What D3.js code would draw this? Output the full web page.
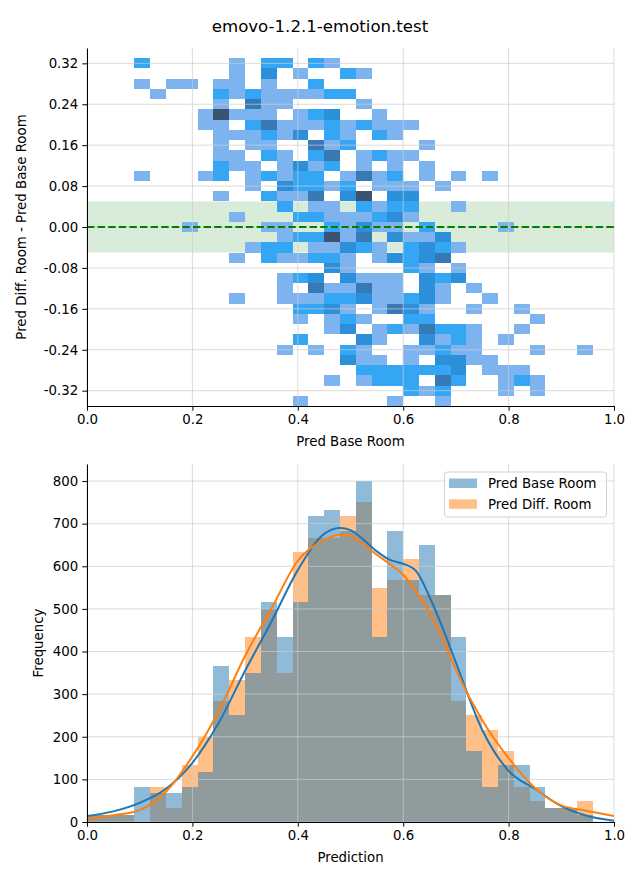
<!DOCTYPE html>
<html><head><meta charset="utf-8">
<script src="https://cdn.jsdelivr.net/npm/d3@7"></script>
<style>body{margin:0;background:#fff}svg{display:block;font-family:"DejaVu Sans",sans-serif}</style>
</head><body><svg id="c" width="640" height="880"></svg>
<script>
// ---------------- DATA ----------------
const chartTitle = "emovo-1.2.1-emotion.test";

// Top: 2D histogram (Pred Base Room vs difference)
const heatColEdges = d3.range(30).map(i => +(0.09 + 0.03 * i).toFixed(2));   // 0.09 .. 0.96
const heatRowCenters = d3.range(34).map(j => +(0.32 - 0.02 * j).toFixed(2)); // 0.32 .. -0.34
const heatRowHalf = 0.01;
const heatCounts = [
  "2000001022021",
  "000000103010021",
  "101101101002",
  "01000212111122",
  "000001041100001",
  "0000151110123001",
  "000011024111212111",
  "00000111213021021",
  "0000010110041200001",
  "000001102102401211",
  "0000021101312010101",
  "10001201212201412010101",
  "00000001032212011101",
  "000001002114035033",
  "000000000201102122001",
  "000000100022111231",
  "000100001100213110200001",
  "00000000012251403113",
  "000000012201132102321",
  "00000010211221013234",
  "000000000000310002101",
  "000000000123031110323",
  "0000000001041141103101",
  "00000010011122311231001",
  "0000000000223101431001001",
  "00000000001012100220000001",
  "0000000000001301214221001",
  "000000000020003100312101",
  "00000000010102100112110001001",
  "00000000000003110103311",
  "0000000000000022222230111",
  "00000000000010122204200121",
  "00000000000000000212000101",
  "00000000001000001001"
];
const heatColors = ["#ffffff", "#7db4f0", "#34a6f4", "#2b8fd9", "#3679b5", "#3b5272"];
const bandLimits = [-0.05, 0.05];
const topXTicks = [0, 0.2, 0.4, 0.6, 0.8, 1.0];
const topYTicks = [0.32, 0.24, 0.16, 0.08, 0.00, -0.08, -0.16, -0.24, -0.32];
const topYTickLabels = ["0.32", "0.24", "0.16", "0.08", "0.00", "-0.08", "-0.16", "-0.24", "-0.32"];

// Bottom: histograms
const histEdges = d3.range(33).map(i => +(0.03 * i).toFixed(2)); // 0 .. 0.96
const histBase = [17,17,17,83,67,67,83,117,367,250,350,517,433,517,717,733,683,800,433,683,567,650,533,433,167,83,133,133,83,33,33,17];
const histDiff = [17,17,17,0,83,33,133,200,283,333,433,500,350,633,667,667,717,750,550,567,617,533,533,283,250,217,167,83,50,33,33,50];
const kdeX    = [0, .05, .1, .15, .2, .25, .3, .35, .4, .45, .48, .5, .525, .55, .575, .6, .625, .65, .675, .7, .75, .8, .85, .9, .95, 1];
const kdeBase = [14, 25, 45, 78, 139, 233, 355, 470, 591, 676, 690, 685, 662, 635, 615, 606, 588, 528, 455, 374, 216, 120, 78, 37, 14, 3];
const kdeDiff = [9, 16, 28, 71, 154, 260, 390, 501, 613, 662, 674, 671, 651, 627, 605, 580, 540, 491, 430, 357, 239, 150, 80, 39, 26, 14];
const seriesNames = ["Pred Base Room", "Pred Diff. Room"];
const seriesColors = ["#1f77b4", "#ff7f0e"];
const botXTicks = [0, 0.2, 0.4, 0.6, 0.8, 1.0];
const botYTicks = [0, 100, 200, 300, 400, 500, 600, 700, 800];

// ---------------- DRAW ----------------
const svg = d3.select("#c");
const FS = 13.33;
const gridStroke = "#cccccc", gridOp = 0.7;

svg.append("text").attr("x", 320).attr("y", 32).attr("text-anchor", "middle")
  .attr("font-size", 16.6).text(chartTitle);

// ---- top panel ----
const T = {l: 87, r: 614, t: 48, b: 406};
const x1 = d3.scaleLinear().domain([0, 1]).range([T.l, T.r]);
const y1 = d3.scaleLinear().domain([-0.35, 0.35]).range([T.b, T.t]);
const g1 = svg.append("g");

g1.append("rect").attr("x", x1(0)).attr("width", x1(1) - x1(0))
  .attr("y", y1(bandLimits[1])).attr("height", y1(bandLimits[0]) - y1(bandLimits[1]))
  .attr("fill", "green").attr("fill-opacity", 0.15);

const cells = [];
heatCounts.forEach((row, j) => {
  const s = row.padEnd(heatColEdges.length - 1, "0");
  for (let i = 0; i < heatColEdges.length - 1; i++) {
    const c = +s[i];
    if (c > 0) cells.push({x0: heatColEdges[i], x1: heatColEdges[i + 1], yc: heatRowCenters[j], c});
  }
});
g1.append("g").attr("shape-rendering", "crispEdges").selectAll("rect").data(cells).join("rect")
  .attr("x", d => x1(d.x0)).attr("width", d => x1(d.x1) - x1(d.x0))
  .attr("y", d => y1(d.yc + heatRowHalf)).attr("height", d => y1(d.yc - heatRowHalf) - y1(d.yc + heatRowHalf))
  .attr("fill", d => heatColors[d.c]);

const gg1 = g1.append("g").attr("stroke", gridStroke).attr("stroke-opacity", gridOp).attr("stroke-width", 1);
topXTicks.forEach(v => gg1.append("line").attr("x1", x1(v)).attr("x2", x1(v)).attr("y1", T.t).attr("y2", T.b));
topYTicks.forEach(v => gg1.append("line").attr("x1", T.l).attr("x2", T.r).attr("y1", y1(v)).attr("y2", y1(v)));

g1.append("line").attr("x1", x1(0)).attr("x2", x1(1)).attr("y1", y1(0)).attr("y2", y1(0))
  .attr("stroke", "green").attr("stroke-width", 2).attr("stroke-dasharray", "7.4,3.2");

function styleAxis(g) {
  g.selectAll("text").attr("font-size", FS).attr("fill", "#000").attr("font-family", "DejaVu Sans");
  g.selectAll("line").attr("stroke", "#000").attr("stroke-width", 1);
  g.select(".domain").attr("stroke", "#000").attr("stroke-width", 1);
}
g1.append("g").attr("transform", `translate(0,${T.b})`)
  .call(d3.axisBottom(x1).tickValues(topXTicks).tickFormat(d3.format(".1f")).tickSize(4.7).tickSizeOuter(0).tickPadding(4))
  .call(styleAxis);
g1.append("g").attr("transform", `translate(${T.l},0)`)
  .call(d3.axisLeft(y1).tickValues(topYTicks).tickFormat((d, i) => topYTickLabels[i]).tickSize(4.7).tickSizeOuter(0).tickPadding(4))
  .call(styleAxis);
g1.append("text").attr("x", (T.l + T.r) / 2).attr("y", 446).attr("text-anchor", "middle")
  .attr("font-size", FS).text("Pred Base Room");
g1.append("text").attr("transform", `translate(21,${(T.t + T.b) / 2}) rotate(-90)`).attr("dy", "0.35em")
  .attr("text-anchor", "middle").attr("font-size", FS).text("Pred Diff. Room - Pred Base Room");

// ---- bottom panel ----
const B = {l: 87, r: 614, t: 464, b: 822};
const x2 = d3.scaleLinear().domain([0, 1]).range([B.l, B.r]);
const y2 = d3.scaleLinear().domain([0, 840]).range([B.b, B.t]);
const g2 = svg.append("g");

function bars(values, color) {
  g2.append("g").attr("shape-rendering", "crispEdges").selectAll("rect").data(values).join("rect")
    .attr("x", (d, i) => x2(histEdges[i])).attr("width", (d, i) => x2(histEdges[i + 1]) - x2(histEdges[i]))
    .attr("y", d => y2(d)).attr("height", d => y2(0) - y2(d))
    .attr("fill", color).attr("fill-opacity", 0.5);
}
bars(histDiff, seriesColors[1]);
bars(histBase, seriesColors[0]);

const gg2 = g2.append("g").attr("stroke", gridStroke).attr("stroke-opacity", gridOp).attr("stroke-width", 1);
botXTicks.forEach(v => gg2.append("line").attr("x1", x2(v)).attr("x2", x2(v)).attr("y1", B.t).attr("y2", B.b));
botYTicks.forEach(v => gg2.append("line").attr("x1", B.l).attr("x2", B.r).attr("y1", y2(v)).attr("y2", y2(v)));

const line = d3.line().x(d => x2(d[0])).y(d => y2(d[1])).curve(d3.curveMonotoneX);
g2.append("path").attr("d", line(kdeX.map((x, i) => [x, kdeBase[i]])))
  .attr("fill", "none").attr("stroke", seriesColors[0]).attr("stroke-width", 2);
g2.append("path").attr("d", line(kdeX.map((x, i) => [x, kdeDiff[i]])))
  .attr("fill", "none").attr("stroke", seriesColors[1]).attr("stroke-width", 2);

g2.append("g").attr("transform", `translate(0,${B.b})`)
  .call(d3.axisBottom(x2).tickValues(botXTicks).tickFormat(d3.format(".1f")).tickSize(4.7).tickSizeOuter(0).tickPadding(4))
  .call(styleAxis);
g2.append("g").attr("transform", `translate(${B.l},0)`)
  .call(d3.axisLeft(y2).tickValues(botYTicks).tickFormat(d3.format("d")).tickSize(4.7).tickSizeOuter(0).tickPadding(4))
  .call(styleAxis);
g2.append("text").attr("x", (B.l + B.r) / 2).attr("y", 862).attr("text-anchor", "middle")
  .attr("font-size", FS).text("Prediction");
g2.append("text").attr("transform", `translate(38,${(B.t + B.b) / 2}) rotate(-90)`).attr("dy", "0.35em")
  .attr("text-anchor", "middle").attr("font-size", FS).text("Frequency");

// legend
const lg = svg.append("g");
lg.append("rect").attr("x", 444.5).attr("y", 472).attr("width", 162).attr("height", 45).attr("rx", 3)
  .attr("fill", "#fff").attr("fill-opacity", 0.8).attr("stroke", "#d0d0d0");
seriesNames.forEach((n, i) => {
  lg.append("rect").attr("x", 449).attr("y", 478.5 + i * 20.8).attr("width", 28).attr("height", 9.5)
    .attr("fill", seriesColors[i]).attr("fill-opacity", 0.5);
  lg.append("text").attr("x", 488).attr("y", 488 + i * 20.8).attr("font-size", FS).text(n);
});
</script></body></html>
